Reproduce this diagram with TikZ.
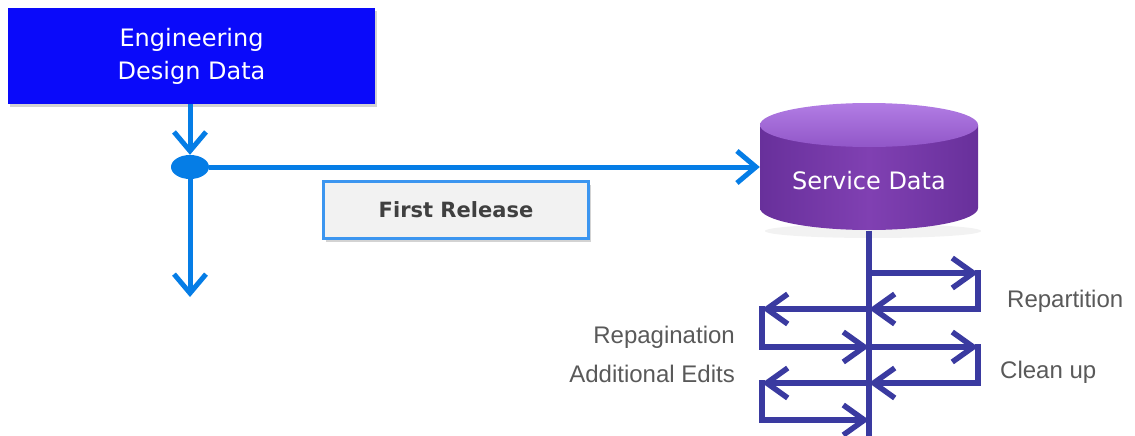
\documentclass[tikz,border=0pt]{standalone}
\usepackage{fontspec}
\setmainfont{Liberation Sans}
\newfontfamily\dejavu{DejaVu Sans}
\usetikzlibrary{arrows.meta,shapes.geometric,shadows}
\definecolor{engblue}{RGB}{10,10,250}
\definecolor{flowblue}{RGB}{5,125,230}
\definecolor{frborder}{RGB}{60,150,240}
\definecolor{frfill}{RGB}{242,242,242}
\definecolor{frtext}{RGB}{64,64,64}
\definecolor{lbl}{RGB}{89,89,89}
\definecolor{loopc}{RGB}{58,58,160}
\definecolor{cylmid}{RGB}{128,64,178}
\definecolor{cyldark}{RGB}{104,48,155}
\definecolor{cyltop}{RGB}{178,125,228}
\definecolor{cyltop2}{RGB}{145,86,200}
\begin{document}
\begin{tikzpicture}[x=1pt,y=-1pt,
  flow/.style={draw=flowblue, line width=5pt, -{Straight Barb[length=19pt,width=32pt]}},
  loopline/.style={draw=loopc, line width=5.5pt},
  loopside/.style={loopline, line cap=rect},
  looparrow/.style={loopline, -{Straight Barb[length=21pt,width=30pt]}},
  lab/.style={text=lbl, font=\fontsize{24}{28}\selectfont, inner sep=0pt},
  shad/.style={drop shadow={opacity=0.35, shadow xshift=2pt, shadow yshift=-3pt}},
]
\useasboundingbox (0,0) rectangle (1135,436);

% Engineering box
\node[fill=engblue, shad, minimum width=367pt, minimum height=96pt, inner sep=0pt,
      text=white, align=center, font=\dejavu\fontsize{24}{33}\selectfont]
      (eng) at (191.5,56) {Engineering\\Design Data};

% junction
\node[ellipse, fill=flowblue, minimum width=38pt, minimum height=24pt, inner sep=0pt] (j) at (190,167) {};

% First Release
\node[fill=frfill, draw=frborder, line width=2.5pt, shad, minimum width=265pt, minimum height=57pt,
      text=frtext, font=\dejavu\bfseries\fontsize{21}{25}\selectfont] (fr) at (456,210) {First Release};

% cylinder
\fill[black, opacity=0.05] (873,231) ellipse[x radius=108pt, y radius=7pt];
\shade[left color=cyldark, right color=cyldark, middle color=cylmid]
  (760,125) -- (760,208) arc[start angle=180, end angle=360, x radius=109pt, y radius=22pt] -- (978,125) -- cycle;
\shade[top color=cyltop, bottom color=cyltop2] (869,125) ellipse[x radius=109pt, y radius=22pt];
\node[minimum width=218pt, minimum height=127pt, inner sep=0pt, text=white,
      font=\dejavu\fontsize{24}{28}\selectfont] (svc) at (869,167) {\raisebox{-22pt}[0pt][0pt]{Service Data}};

% blue flows
\coordinate (down) at (190,297);
\draw[flow] (eng.south -| j.north) -- (j.north);
\draw[flow] (j.east) -- (svc.west);
\draw[flow] (j.south) -- (down);

% dark blue loops
\coordinate (vb) at (869,436);
\coordinate (c1) at (869,273);
\coordinate (r1) at (978,273);
\coordinate (r1b) at (978,309);
\coordinate (c2) at (869,309);
\coordinate (l1) at (762,309);
\coordinate (l1b) at (762,347);
\coordinate (c3) at (869,347);
\coordinate (r2) at (978,347);
\coordinate (r2b) at (978,383);
\coordinate (c4) at (869,383);
\coordinate (l2) at (762,383);
\coordinate (l2b) at (762,420);
\coordinate (c5) at (869,420);
\draw[loopline] (svc.south) -- (vb);
\draw[looparrow] (c1) -- (r1);
\draw[loopside] (r1) -- (r1b);
\draw[looparrow] (r1b) -- (c2);
\draw[looparrow] (c2) -- (l1);
\draw[loopside] (l1) -- (l1b);
\draw[looparrow] (l1b) -- (c3);
\draw[looparrow] (c3) -- (r2);
\draw[loopside] (r2) -- (r2b);
\draw[looparrow] (r2b) -- (c4);
\draw[looparrow] (c4) -- (l2);
\draw[loopside] (l2) -- (l2b);
\draw[looparrow] (l2b) -- (c5);

% labels
\node[lab, anchor=base west] (rep) at (1007,307) {Repartition};
\node[lab, anchor=base west] (cln) at (1000,378) {Clean up};
\node[lab, anchor=base east] (rpg) at (735,343) {Repagination};
\node[lab, anchor=base east] (add) at (735,382) {Additional Edits};
\end{tikzpicture}
\end{document}
